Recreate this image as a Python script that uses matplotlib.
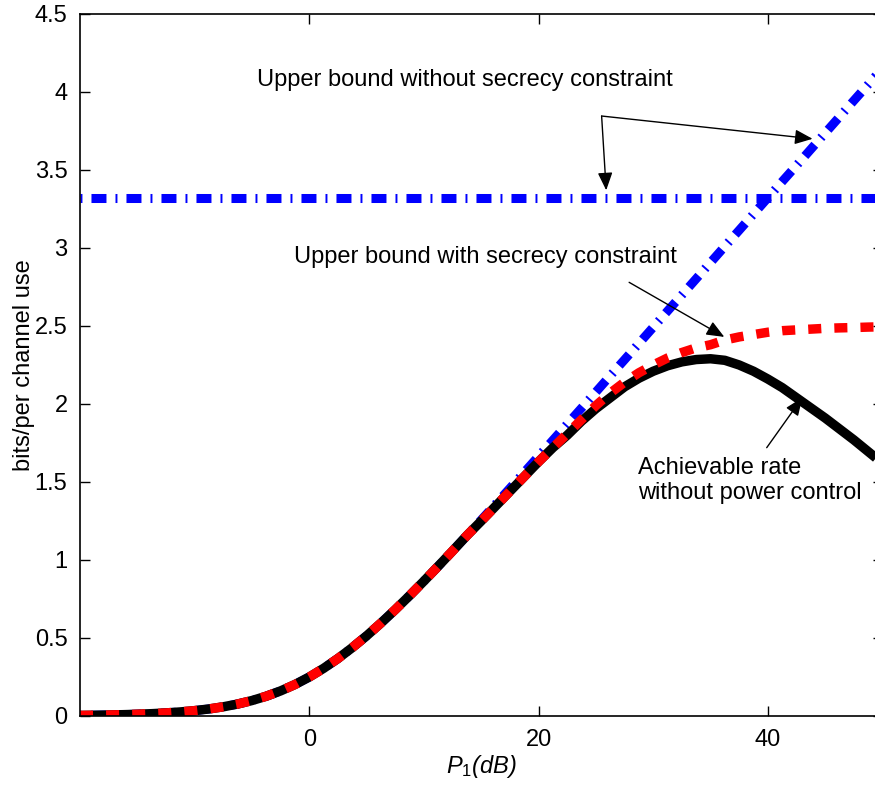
import numpy as np
import matplotlib
matplotlib.use('Agg')
import matplotlib.pyplot as plt

plt.rcParams['font.family'] = ['Liberation Sans', 'DejaVu Sans']
plt.rcParams['mathtext.fontset'] = 'custom'
plt.rcParams['mathtext.it'] = 'Liberation Sans:italic'
plt.rcParams['mathtext.rm'] = 'Liberation Sans'
plt.rcParams['lines.scale_dashes'] = False

# 数据, P1 每 1.25 dB 一个点
p_db = [-20 + 1.25 * i for i in range(57)]

# 低功率区三条曲线重合 (-20 ... 13.75 dB)
common_low = [0.0036, 0.0048, 0.0064, 0.0085, 0.0112, 0.0149, 0.0197, 0.0261,
              0.0344, 0.0452, 0.059, 0.0767, 0.0991, 0.1269, 0.161, 0.2018,
              0.25, 0.3056, 0.3685, 0.4383, 0.514, 0.5958, 0.682, 0.7718,
              0.865, 0.9604, 1.058, 1.157]

upper_no_secrecy = common_low + [
    1.257, 1.358, 1.460, 1.562, 1.665, 1.768, 1.871, 1.974, 2.077, 2.181,
    2.284, 2.388, 2.492, 2.596, 2.699, 2.803, 2.907, 3.011, 3.114, 3.218,
    3.322, 3.426, 3.529, 3.633, 3.737, 3.841, 3.945, 4.048, 4.152]
upper_flat = 3.322
upper_secrecy = common_low + [
    1.250, 1.345, 1.44, 1.535, 1.63, 1.72, 1.81, 1.90, 1.99, 2.07,
    2.14, 2.20, 2.25, 2.295, 2.33, 2.36, 2.38, 2.41, 2.43, 2.445,
    2.46, 2.47, 2.475, 2.48, 2.485, 2.488, 2.49, 2.493, 2.495]
achievable = common_low + [
    1.250, 1.345, 1.44, 1.535, 1.63, 1.72, 1.80, 1.89, 1.97, 2.04,
    2.11, 2.165, 2.21, 2.245, 2.27, 2.285, 2.29, 2.28, 2.25, 2.21,
    2.16, 2.105, 2.04, 1.975, 1.91, 1.84, 1.77, 1.695, 1.62]

yticks = [0, 0.5, 1, 1.5, 2, 2.5, 3, 3.5, 4, 4.5]
ytick_labels = ['0', '0.5', '1', '1.5', '2', '2.5', '3', '3.5', '4', '4.5']
xticks = [0, 20, 40]

fs = 17

fig = plt.figure(figsize=(8.75, 7.86), dpi=100)
ax = fig.add_axes([80 / 875, 70 / 786, 802.5 / 875, 702 / 786])

dashdot = (0, (1.4, 6.5, 10.8, 6.5))
ax.plot([p_db[0], p_db[-1]], [upper_flat, upper_flat], color='#0000ff', lw=6.5,
        linestyle=dashdot, dash_capstyle='butt')
ax.plot(p_db, upper_no_secrecy, color='#0000ff', lw=6.5,
        linestyle=dashdot, dash_capstyle='butt')
ax.plot(p_db, achievable, color='black', lw=6.8, solid_capstyle='butt',
        solid_joinstyle='round')
ax.plot(p_db, upper_secrecy, color='#ff0000', lw=6.8,
        linestyle=(0, (9.4, 9.4)), dash_capstyle='butt', dash_joinstyle='round')

ax.set_xlim(-20, 50)
ax.set_ylim(0, 4.5)
ax.set_xticks(xticks)
ax.set_yticks(yticks)
ax.set_yticklabels(ytick_labels)
ax.tick_params(direction='in', length=7, width=1, labelsize=fs, top=True, right=True, pad=9)
for s in ax.spines.values():
    s.set_linewidth(1.2)

ax.set_xlabel(r'$\mathit{P_1}$' + '(dB)', fontsize=fs, style='italic', labelpad=2)
ax.set_ylabel('bits/per channel use', fontsize=fs, labelpad=0)

arr = dict(arrowstyle='-|>,head_length=0.6,head_width=0.25', color='black', lw=1,
           mutation_scale=18, shrinkA=0, shrinkB=0)
ax.text(-4.54, 4.08, 'Upper bound without secrecy constraint', fontsize=fs, va='center')
ax.annotate('', xy=(25.9, 3.37), xytext=(25.5, 3.846), arrowprops=arr)
ax.annotate('', xy=(43.9, 3.70), xytext=(25.5, 3.846), arrowprops=arr)

ax.text(-1.31, 2.94, 'Upper bound with secrecy constraint', fontsize=fs, va='center')
ax.annotate('', xy=(36.2, 2.43), xytext=(27.9, 2.78), arrowprops=arr)

ax.text(28.65, 1.51, 'Achievable rate\nwithout power control', fontsize=fs, va='center',
        linespacing=1.14)
ax.annotate('', xy=(43.0, 2.04), xytext=(39.9, 1.72), arrowprops=arr)

fig.savefig('out.png', dpi=100)
